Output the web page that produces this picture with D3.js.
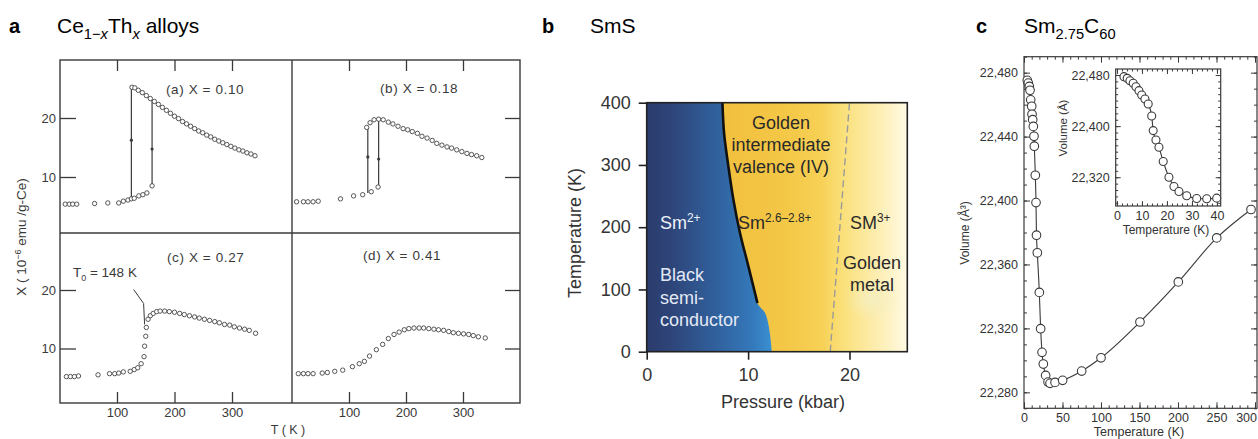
<!DOCTYPE html>
<html>
<head>
<meta charset="utf-8">
<script src="https://cdn.jsdelivr.net/npm/d3@7"></script>
<style>
  body { margin: 0; background: #fff; }
  svg { display: block; }
</style>
</head>
<body>
<svg id="fig" width="1258" height="439"></svg>
<script>
// ---------- panel a : Ce(1-x)Th(x) susceptibility, [T (K), chi (1e-6 emu/g-Ce)]
const chiA_low = [[10,5.4],[17,5.4],[23,5.4],[30,5.4],[61,5.5],[84,5.6],[103,5.6],[111,5.9],[119,6.1],[125,6.3],[130,6.4],[138,6.8],[145,7.0],[152,7.3],[161,8.5]];
const chiA_high = [[126,25.2],[131,25.1],[137,24.7],[144,24.3],[151,23.8],[158,23.3],[165,22.8],[172,22.3],[179,21.8],[186,21.3],[193,20.8],[200,20.3],[207,19.9],[214,19.4],[221,19.0],[228,18.6],[235,18.2],[242,17.8],[249,17.5],[256,17.1],[263,16.8],[270,16.4],[277,16.1],[284,15.8],[291,15.5],[298,15.2],[305,14.9],[312,14.6],[319,14.4],[326,14.1],[333,13.9],[340,13.6]];
const chiA_jumps = [[125,6.3,25.2],[161,8.5,23.0]];

const chiB_low = [[8,5.8],[20,5.8],[28,5.8],[37,5.8],[46,5.9],[85,6.3],[108,6.8],[124,7.0],[139,7.5],[151,8.3]];
const chiB_high = [[131,18.4],[137,19.2],[144,19.7],[152,19.8],[160,19.7],[169,19.3],[177,19.0],[186,18.6],[195,18.2],[203,18.0],[211,17.7],[220,17.4],[228,16.9],[237,16.6],[246,16.2],[254,15.7],[263,15.4],[272,15.1],[280,14.9],[289,14.6],[298,14.3],[307,14.0],[315,13.8],[324,13.6],[333,13.3]];
const chiB_jumps = [[133,7.3,18.5],[152,8.3,19.8]];

const chiC = [[12,5.2],[19,5.2],[26,5.2],[33,5.3],[67,5.5],[87,5.7],[96,5.7],[103,5.8],[111,6.0],[123,6.1],[130,6.4],[136,6.7],[142,7.4],[147,8.6],[148,10.4],[150,12.1],[151,13.6],[154,15.0],[158,15.6],[163,16.0],[169,16.3],[175,16.4],[183,16.4],[191,16.3],[200,16.2],[209,16.0],[217,15.8],[226,15.6],[235,15.4],[243,15.2],[252,15.0],[261,14.8],[270,14.6],[278,14.4],[287,14.1],[296,14.0],[304,13.7],[313,13.5],[322,13.3],[330,13.1],[341,12.6]];
const chiC_T0 = 148;

const chiD = [[11,5.7],[20,5.7],[28,5.7],[37,5.7],[53,5.8],[62,5.9],[75,6.1],[89,6.3],[106,6.9],[118,7.4],[127,7.8],[136,8.7],[148,9.8],[159,10.7],[169,11.7],[179,12.4],[188,12.8],[197,13.2],[205,13.4],[214,13.5],[223,13.5],[231,13.5],[240,13.4],[249,13.3],[257,13.2],[266,13.1],[275,12.9],[283,12.7],[292,12.6],[301,12.5],[310,12.4],[318,12.2],[327,12.0],[339,11.8]];

const chiTicksY = [10, 20];
const chiTicksX = [100, 200, 300];

// ---------- panel b : SmS phase diagram, [P (kbar), T (K)]
const smsBoundary = [[7.47,400],[7.63,351],[8.06,297],[8.55,244],[9.21,190],[10.03,137],[10.92,78]];
const smsBlueEdge = [[10.92,78],[11.68,62],[12.1,35],[12.34,0]];
const smsDashed = [[18.1,0],[20,400]];
const smsTicksT = [0, 100, 200, 300, 400];
const smsTicksP = [0, 10, 20];

// ---------- panel c : Sm2.75C60 volume, [T (K), V (A^3)]
const volMain = [[4.3,22475.2],[5.6,22473.5],[6.9,22471.4],[7.8,22469],[8.7,22463],[10,22459],[10.4,22454],[11.3,22450.6],[12.1,22446.4],[13,22440.2],[13.4,22434],[14.7,22415.8],[15.6,22398.7],[16.2,22378.3],[17.3,22367.3],[19.9,22342.5],[21.6,22319.8],[23.4,22305],[25.1,22297.7],[28.1,22290.6],[31.2,22286.4],[33.8,22285.6],[40.3,22286.2],[50.2,22287.5],[74.9,22293.3],[100,22301.6],[150.6,22324],[200.4,22349.1],[250.3,22376.6],[294.8,22394.4]];
const volInset = [[2.8,22477.4],[4.1,22474.8],[5.2,22471.1],[6.5,22467],[7.6,22461.7],[8.8,22455.5],[9.9,22448.8],[11.2,22442.5],[12.5,22434.7],[13.9,22415.9],[14.5,22393],[15.6,22378.4],[16.8,22367],[18.5,22344.6],[20.8,22320],[22.8,22305.5],[24.8,22297.7],[27.9,22291],[31.9,22286.8],[35.9,22286.3],[39.9,22287.3]];
const volTicksV = [22280, 22320, 22360, 22400, 22440, 22480];
const volTicksT = [0, 50, 100, 150, 200, 250, 300];
const insetTicksV = [22320, 22400, 22480];
const insetTicksT = [0, 10, 20, 30, 40];

const svg = d3.select("#fig");
const SANS = "'Liberation Sans', Arial, Helvetica, sans-serif";
svg.append("rect").attr("width", 1258).attr("height", 439).attr("fill", "#fff");

function rich(sel, parts, size, ratio = 0.66) {
  let shift = 0;
  parts.forEach(([t, kind, it]) => {
    const target = kind === "sup" ? -0.38 * size : kind === "sub" ? 0.3 * size : 0;
    sel.append("tspan")
      .attr("dy", target - shift)
      .attr("font-size", kind ? size * ratio : size)
      .attr("font-style", it ? "italic" : null)
      .text(t);
    shift = target;
  });
}

// ---------- titles
function title(x, letter, parts) {
  svg.append("text").attr("x", x).attr("y", 33).attr("font-family", SANS)
    .attr("font-size", 20).attr("font-weight", "bold").text(letter);
  const t = svg.append("text").attr("x", x + 48).attr("y", 33).attr("font-family", SANS).attr("font-size", 21);
  rich(t, parts, 21, 0.7);
}
title(9, "a", [["Ce"], ["1\u2212", "sub"], ["x", "sub", true], ["Th"], ["x", "sub", true], [" alloys"]]);
title(542, "b", [["SmS"]]);
title(976, "c", [["Sm"], ["2.75", "sub"], ["C"], ["60", "sub"]]);

// ================= panel a =================
const ga = svg.append("g").attr("font-family", SANS).attr("fill", "#3a3a3a");
const INK = "#3a3a3a";
const xL = d3.scaleLinear([0, 400], [59.5, 289.5]);
const xR = d3.scaleLinear([0, 400], [292, 520]);
const yT = d3.scaleLinear([0, 30], [236, 59]);
const yB = d3.scaleLinear([0, 30], [407, 231.5]);

function styleAxis(g, size) {
  g.select(".domain").remove();
  g.selectAll("line").attr("stroke", INK).attr("stroke-width", 1.3);
  g.selectAll("text").attr("fill", INK).attr("font-size", size).attr("font-family", SANS);
}
const sub = [
  { x: xL, y: yT, data: [chiA_low, chiA_high], jumps: chiA_jumps, label: "(a) X = 0.10", lx: 166, ly: 94, left: true, bottom: false },
  { x: xR, y: yT, data: [chiB_low, chiB_high], jumps: chiB_jumps, label: "(b) X = 0.18", lx: 380, ly: 93, left: false, bottom: false },
  { x: xL, y: yB, data: [chiC], jumps: [], label: "(c) X = 0.27", lx: 167, ly: 262, left: true, bottom: true },
  { x: xR, y: yB, data: [chiD], jumps: [], label: "(d) X = 0.41", lx: 363, ly: 260, left: false, bottom: true }
];
sub.forEach(s => {
  const [x0, x1] = s.x.range();
  const yTop = s.y === yT ? 60 : 233, yBot = s.y === yT ? 233 : 403;
  if (s.bottom) {
    ga.append("g").attr("transform", `translate(0,${yBot})`)
      .call(d3.axisBottom(s.x).tickValues(chiTicksX).tickSize(-11).tickPadding(5).tickFormat(d3.format("d")))
      .call(g => styleAxis(g, 13));
  } else {
    ga.append("g").attr("transform", `translate(0,${yTop})`)
      .call(d3.axisTop(s.x).tickValues(chiTicksX).tickSize(-11).tickFormat(""))
      .call(g => styleAxis(g, 13));
  }
  if (s.left) {
    ga.append("g").attr("transform", `translate(${x0 + 0.5},0)`)
      .call(d3.axisLeft(s.y).tickValues(chiTicksY).tickSize(-16).tickPadding(4).tickFormat(d3.format("d")))
      .call(g => styleAxis(g, 13));
  } else {
    ga.append("g").attr("transform", `translate(520,0)`)
      .call(d3.axisRight(s.y).tickValues(chiTicksY).tickSize(-15).tickFormat(""))
      .call(g => styleAxis(g, 13));
  }
  // hysteresis jumps
  s.jumps.forEach(([t, lo, hi], i) => {
    ga.append("line").attr("x1", s.x(t)).attr("x2", s.x(t)).attr("y1", s.y(lo)).attr("y2", s.y(hi))
      .attr("stroke", INK).attr("stroke-width", 1.2);
    ga.append("circle").attr("cx", s.x(t)).attr("cy", s.y((lo + hi) / 2 + (i ? -1 : 0.5)))
      .attr("r", 1.6).attr("fill", INK);
  });
  s.data.forEach(d => {
    ga.append("g").selectAll("circle").data(d).join("circle")
      .attr("cx", p => s.x(p[0])).attr("cy", p => s.y(p[1])).attr("r", 2.2)
      .attr("fill", "#fff").attr("stroke", "#444").attr("stroke-width", 0.9);
  });
  ga.append("text").attr("x", s.lx).attr("y", s.ly).attr("font-size", 13.5)
    .attr("letter-spacing", 0.6).attr("fill", INK).text(s.label);
});
// frame
ga.append("rect").attr("x", 60).attr("y", 60).attr("width", 460).attr("height", 343)
  .attr("fill", "none").attr("stroke", INK).attr("stroke-width", 1.4);
ga.append("line").attr("x1", 292).attr("x2", 292).attr("y1", 60).attr("y2", 403).attr("stroke", INK).attr("stroke-width", 1.4);
ga.append("line").attr("x1", 60).attr("x2", 520).attr("y1", 233).attr("y2", 233).attr("stroke", INK).attr("stroke-width", 1.4);
// T0 annotation
const t0pt = chiC.find(d => d[0] === 151);
ga.append("path").attr("fill", "none").attr("stroke", INK).attr("stroke-width", 1)
  .attr("d", `M${xL(chiC_T0) - 11},${yB(t0pt[1]) - 38} L${xL(chiC_T0) - 1},${yB(t0pt[1]) - 24} L${xL(chiC_T0)},${yB(t0pt[1]) - 3}`);
const t0 = ga.append("text").attr("x", 73).attr("y", 277).attr("fill", INK);
rich(t0, [["T"], ["0", "sub"], [" = 148 K"]], 13.5);
// axis titles
const yl = ga.append("text").attr("transform", "translate(26,237) rotate(-90)").attr("text-anchor", "middle").attr("fill", INK);
rich(yl, [["X ( 10"], ["\u22126", "sup"], [" emu /g-Ce)"]], 13.5);
ga.append("text").attr("x", 288).attr("y", 434).attr("text-anchor", "middle").attr("font-size", 12.5).attr("fill", INK).text("T ( K )");

// ================= panel b =================
const gb = svg.append("g").attr("font-family", SANS);
const xP = d3.scaleLinear([0, 25.7], [646.7, 907.3]);
const yK = d3.scaleLinear([0, 400], [351.7, 102.7]);
const defs = svg.append("defs");
const gGold = defs.append("linearGradient").attr("id", "gold").attr("gradientUnits", "userSpaceOnUse")
  .attr("x1", xP(7)).attr("x2", xP(25.7)).attr("y1", 0).attr("y2", 0);
[[0, "#f1bf3d"], [0.35, "#f4c746"], [0.55, "#f7d156"], [0.66, "#fae07a"], [0.85, "#fdeeb3"], [1, "#fffae4"]]
  .forEach(([o, c]) => gGold.append("stop").attr("offset", o).attr("stop-color", c));
const gBlue = defs.append("linearGradient").attr("id", "blue").attr("gradientUnits", "userSpaceOnUse")
  .attr("x1", xP(0)).attr("x2", xP(12.3)).attr("y1", 0).attr("y2", 0);
[[0, "#2b3b6c"], [0.2, "#2e4579"], [0.55, "#30609c"], [0.85, "#3479bb"], [1, "#3a8fd3"]]
  .forEach(([o, c]) => gBlue.append("stop").attr("offset", o).attr("stop-color", c));
const gGlow = defs.append("radialGradient").attr("id", "glow");
gGlow.append("stop").attr("offset", 0).attr("stop-color", "#f4eec0").attr("stop-opacity", 0.9);
gGlow.append("stop").attr("offset", 1).attr("stop-color", "#f4eec0").attr("stop-opacity", 0);

gb.append("rect").attr("x", xP(0)).attr("y", yK(400)).attr("width", xP(25.7) - xP(0)).attr("height", yK(0) - yK(400))
  .attr("fill", "url(#gold)");
gb.append("ellipse").attr("cx", xP(22.3)).attr("cy", yK(85)).attr("rx", 28).attr("ry", 22).attr("fill", "url(#glow)");
const edge = smsBoundary.concat(smsBlueEdge.slice(1));
const lineP = d3.line().x(d => xP(d[0])).y(d => yK(d[1])).curve(d3.curveCatmullRom);
gb.append("path").attr("fill", "url(#blue)")
  .attr("d", lineP(edge) + `L${xP(0)},${yK(0)}L${xP(0)},${yK(400)}Z`);
gb.append("path").attr("fill", "none").attr("stroke", "#111").attr("stroke-width", 2.6).attr("d", lineP(smsBoundary));
gb.append("path").attr("fill", "none").attr("stroke", "#9a9a9a").attr("stroke-width", 1.4)
  .attr("stroke-dasharray", "7,4").attr("d", d3.line().x(d => xP(d[0])).y(d => yK(d[1]))(smsDashed));
gb.append("rect").attr("x", xP(0)).attr("y", yK(400)).attr("width", xP(25.7) - xP(0)).attr("height", yK(0) - yK(400))
  .attr("fill", "none").attr("stroke", "#222").attr("stroke-width", 1.6);
function styleB(g) {
  g.select(".domain").remove();
  g.selectAll("line").attr("stroke", "#222").attr("stroke-width", 1.6);
  g.selectAll("text").attr("fill", "#333").attr("font-size", 18).attr("font-family", SANS);
}
gb.append("g").attr("transform", `translate(${xP(0)},0)`)
  .call(d3.axisLeft(yK).tickValues(smsTicksT).tickSize(8).tickPadding(8)).call(styleB);
gb.append("g").attr("transform", `translate(0,${yK(0)})`)
  .call(d3.axisBottom(xP).tickValues(smsTicksP).tickSize(8).tickPadding(9)).call(styleB);
gb.append("text").attr("x", 783).attr("y", 408).attr("text-anchor", "middle").attr("font-size", 18).attr("fill", "#333").text("Pressure (kbar)");
gb.append("text").attr("transform", "translate(581,233) rotate(-90)").attr("text-anchor", "middle")
  .attr("font-size", 18).attr("fill", "#333").text("Temperature (K)");
// region labels
["Golden", "intermediate", "valence (IV)"].forEach((t, i) =>
  gb.append("text").attr("x", 781).attr("y", 129 + i * 22).attr("text-anchor", "middle").attr("font-size", 18).attr("fill", "#2a2a2a").text(t));
const smL = gb.append("text").attr("x", 660).attr("y", 229).attr("fill", "#eef2fa");
rich(smL, [["Sm"], ["2+", "sup"]], 18);
["Black", "semi-", "conductor"].forEach((t, i) =>
  gb.append("text").attr("x", 660).attr("y", 281 + i * 22.5).attr("font-size", 18).attr("fill", "#e3eaf5").text(t));
const smM = gb.append("text").attr("x", 738).attr("y", 229).attr("fill", "#2a2a2a");
rich(smM, [["Sm"], ["2.6\u20132.8+", "sup"]], 18);
const smR = gb.append("text").attr("x", 850).attr("y", 229).attr("fill", "#2a2a2a");
rich(smR, [["SM"], ["3+", "sup"]], 18);
["Golden", "metal"].forEach((t, i) =>
  gb.append("text").attr("x", 872).attr("y", 269 + i * 22).attr("text-anchor", "middle").attr("font-size", 18).attr("fill", "#2a2a2a").text(t));

// ================= panel c =================
const gc = svg.append("g").attr("font-family", SANS);
const CINK = "#3a3a3a";
const xC = d3.scaleLinear([0, 302.6], [1024, 1257]);
const yC = d3.scaleLinear([22270, 22490], [408.3, 56.7]);
const xI = d3.scaleLinear([-0.5, 41.5], [1115.7, 1220.7]);
const yI = d3.scaleLinear([22275, 22489.4], [206, 69]);

function styleC(g, size) {
  g.select(".domain").remove();
  g.selectAll("line").attr("stroke", CINK).attr("stroke-width", 1);
  g.selectAll("text").attr("fill", "#333").attr("font-size", size).attr("font-family", SANS);
}
function frameAxes(g, x, y, ticksX, ticksY, minX, minY, fmtY, major, minor) {
  const [x0, x1] = x.range(), [y0, y1] = y.range();
  const minorX = d3.range(minX[0], x.domain()[1] + 0.01, minX[1]).filter(v => v >= x.domain()[0]);
  const minorY = d3.range(minY[0], y.domain()[1] + 0.01, minY[1]).filter(v => v >= y.domain()[0]);
  g.append("g").attr("transform", `translate(0,${y0})`).call(d3.axisBottom(x).tickValues(minorX).tickSize(-minor).tickFormat("")).call(a => styleC(a, 12.5));
  g.append("g").attr("transform", `translate(0,${y1})`).call(d3.axisTop(x).tickValues(minorX).tickSize(-minor).tickFormat("")).call(a => styleC(a, 12.5));
  g.append("g").attr("transform", `translate(${x0},0)`).call(d3.axisLeft(y).tickValues(minorY).tickSize(-minor).tickFormat("")).call(a => styleC(a, 12.5));
  g.append("g").attr("transform", `translate(${x1},0)`).call(d3.axisRight(y).tickValues(minorY).tickSize(-minor).tickFormat("")).call(a => styleC(a, 12.5));
  g.append("g").attr("class", "xlab").attr("transform", `translate(0,${y0})`).call(d3.axisBottom(x).tickValues(ticksX).tickSize(-major).tickPadding(5).tickFormat(d3.format("d"))).call(a => styleC(a, 12.5));
  g.append("g").attr("transform", `translate(0,${y1})`).call(d3.axisTop(x).tickValues(ticksX).tickSize(-major).tickFormat("")).call(a => styleC(a, 12.5));
  g.append("g").attr("transform", `translate(${x0},0)`).call(d3.axisLeft(y).tickValues(ticksY).tickSize(-major).tickPadding(6).tickFormat(fmtY)).call(a => styleC(a, 12.5));
  g.append("g").attr("transform", `translate(${x1},0)`).call(d3.axisRight(y).tickValues(ticksY).tickSize(-major).tickFormat("")).call(a => styleC(a, 12.5));
  g.append("rect").attr("x", x0).attr("y", y1).attr("width", x1 - x0).attr("height", y0 - y1)
    .attr("fill", "none").attr("stroke", CINK).attr("stroke-width", 1.2);
}
frameAxes(gc, xC, yC, volTicksT, volTicksV, [0, 10], [22270, 10], d3.format(","), 6, 3);
// the last label sits on the picture edge: keep it inside
gc.select(".xlab").selectAll(".tick text").filter(d => d === 300).attr("text-anchor", "end").attr("x", 1.5);
const lineC = d3.line().x(d => xC(d[0])).y(d => yC(d[1])).curve(d3.curveMonotoneX);
gc.append("path").attr("fill", "none").attr("stroke", CINK).attr("stroke-width", 1.1).attr("d", lineC(volMain));
gc.append("g").selectAll("circle").data(volMain).join("circle")
  .attr("cx", d => xC(d[0])).attr("cy", d => yC(d[1])).attr("r", 4.3)
  .attr("fill", "#fff").attr("stroke", CINK).attr("stroke-width", 1.1);
gc.append("text").attr("x", 1139).attr("y", 436).attr("text-anchor", "middle").attr("font-size", 12.5).attr("fill", "#333").text("Temperature (K)");
gc.append("text").attr("transform", "translate(969,233) rotate(-90)").attr("text-anchor", "middle")
  .attr("font-size", 12).attr("fill", "#333").text("Volume (\u00c5\u00b3)");

// inset
const gi = gc.append("g");
gi.append("rect").attr("x", 1115.7).attr("y", 69).attr("width", 105).attr("height", 137).attr("fill", "#fff");
frameAxes(gi, xI, yI, insetTicksT, insetTicksV, [0, 2], [22280, 10], d3.format(","), 5, 2.5);
const lineI = d3.line().x(d => xI(d[0])).y(d => yI(d[1])).curve(d3.curveMonotoneX);
gi.append("path").attr("fill", "none").attr("stroke", CINK).attr("stroke-width", 1.1).attr("d", lineI(volInset));
gi.append("g").selectAll("circle").data(volInset).join("circle")
  .attr("cx", d => xI(d[0])).attr("cy", d => yI(d[1])).attr("r", 4)
  .attr("fill", "#fff").attr("stroke", CINK).attr("stroke-width", 1.1);
gi.append("text").attr("x", 1166).attr("y", 234).attr("text-anchor", "middle").attr("font-size", 12).attr("fill", "#333").text("Temperature (K)");
gi.append("text").attr("transform", "translate(1067,128) rotate(-90)").attr("text-anchor", "middle")
  .attr("font-size", 11.5).attr("fill", "#333").text("Volume (\u00c5)");
</script>
</body>
</html>
